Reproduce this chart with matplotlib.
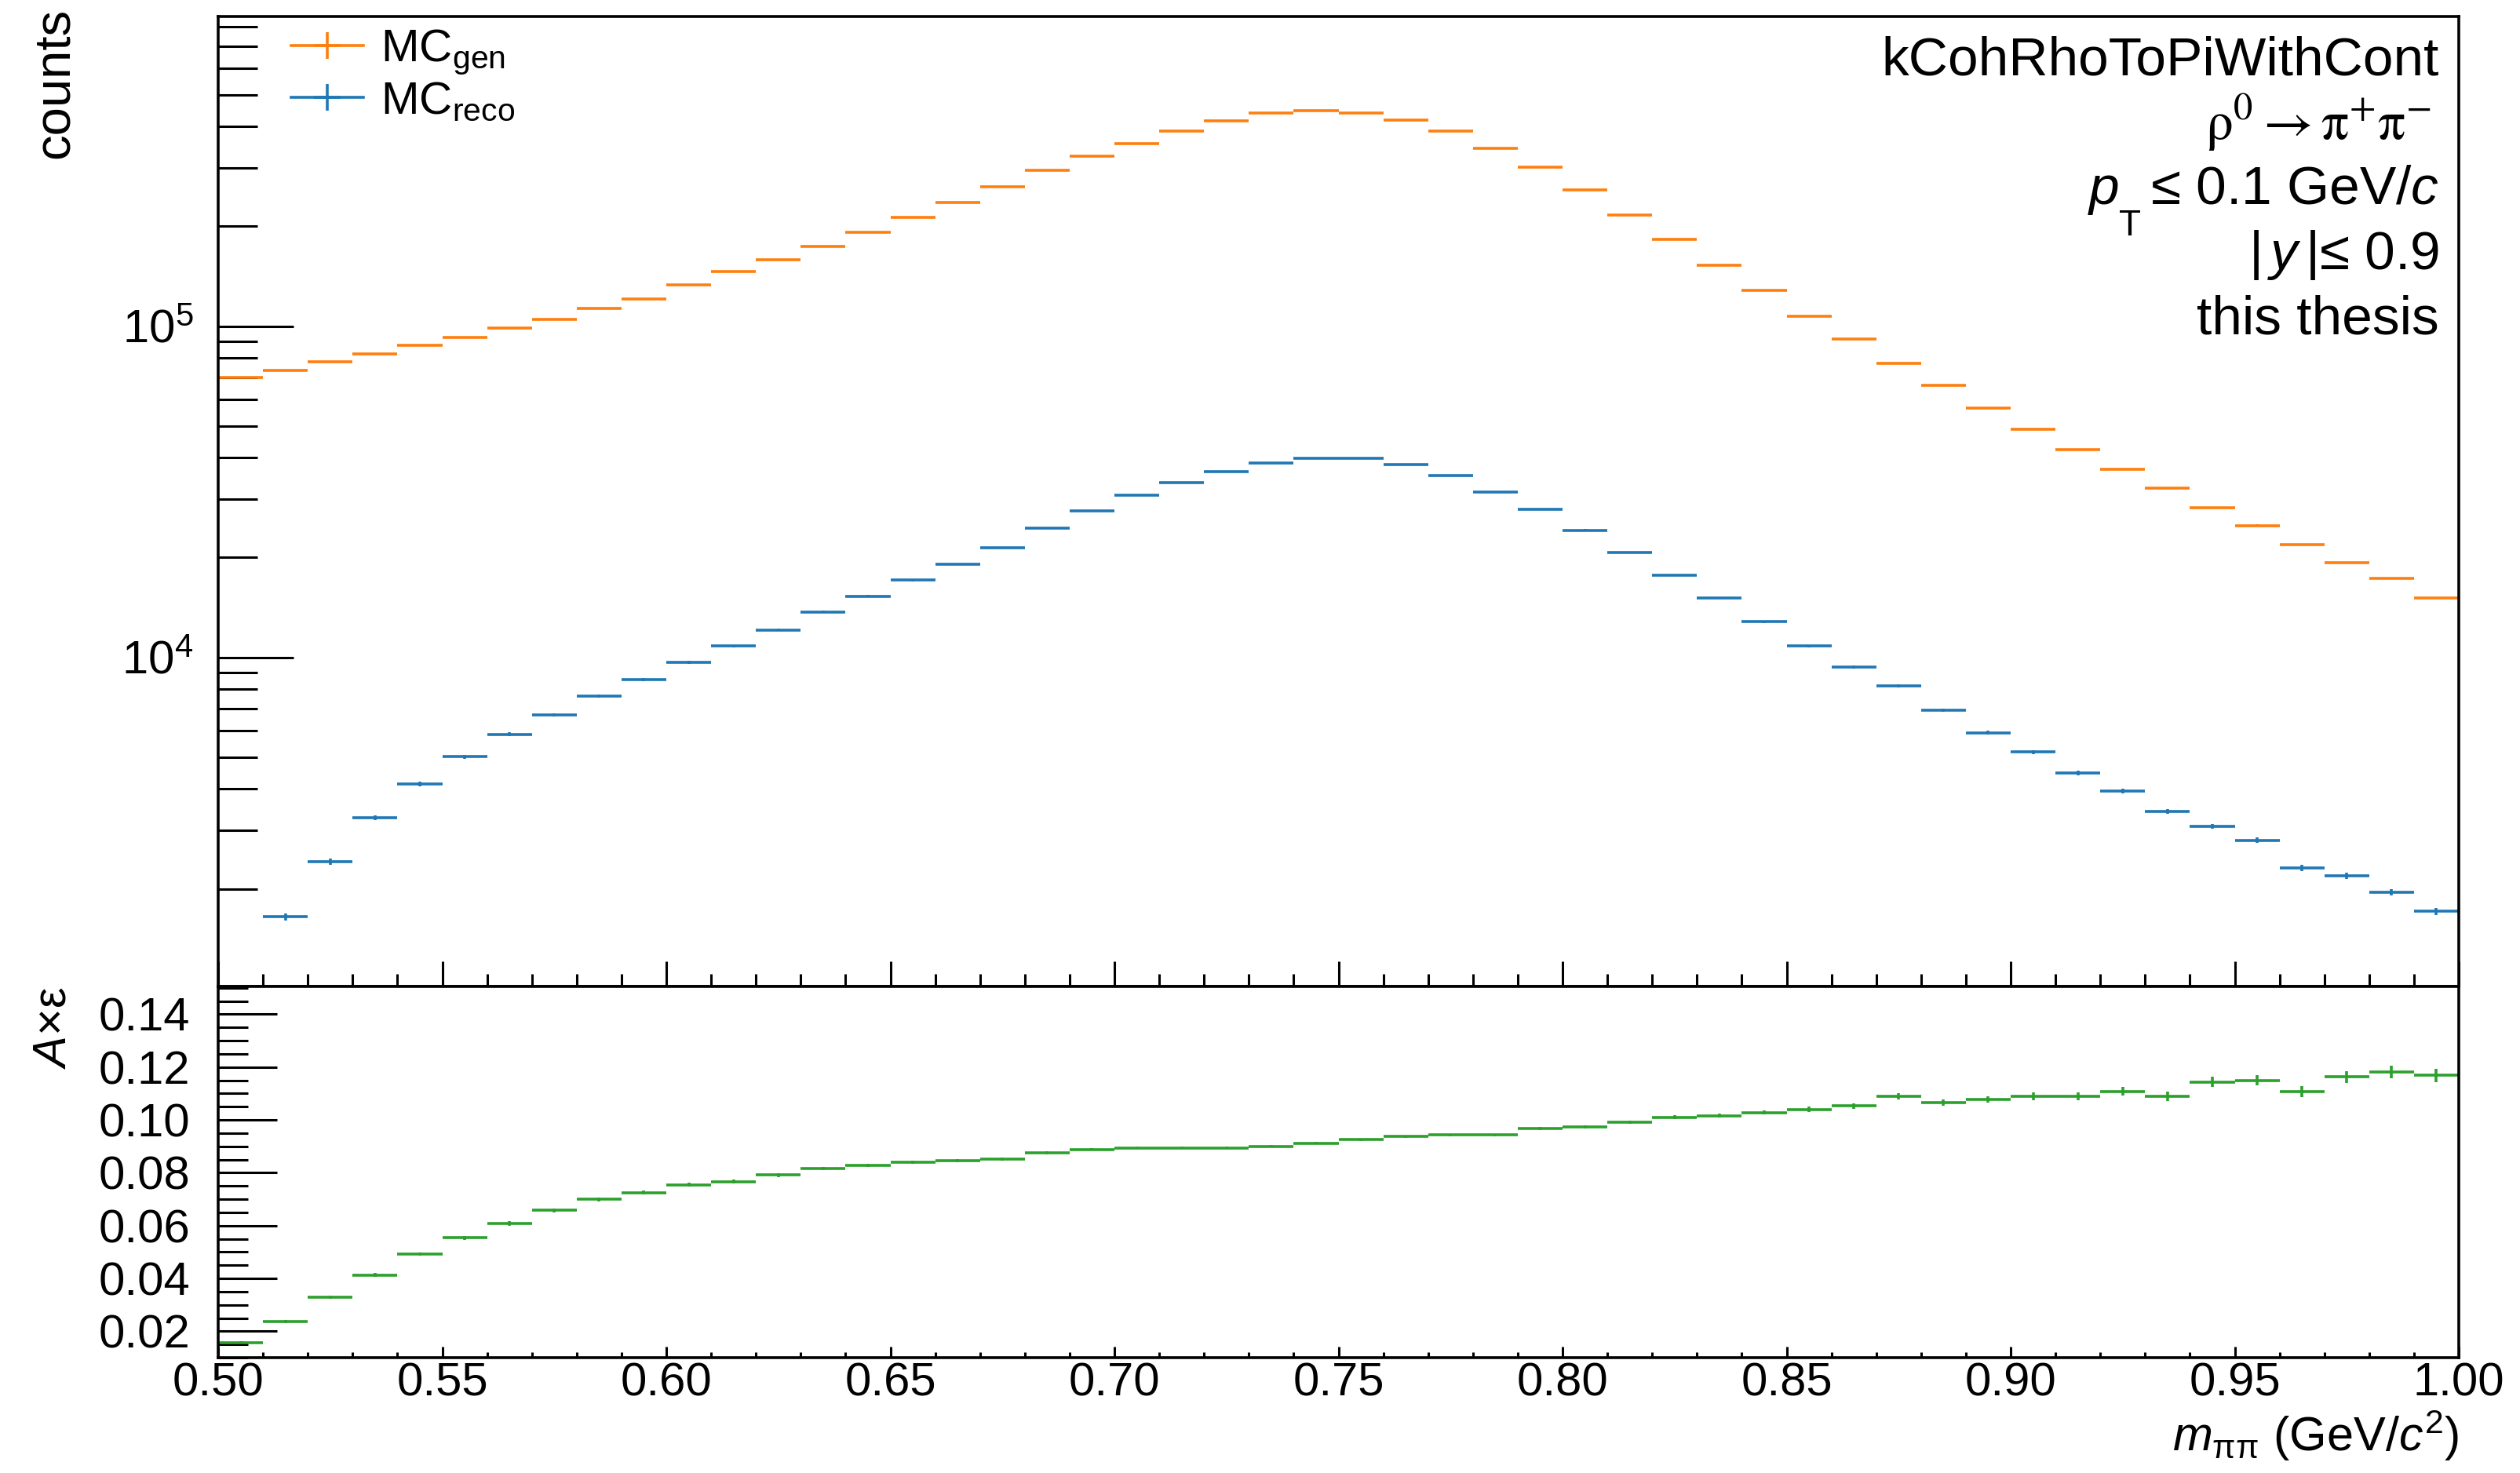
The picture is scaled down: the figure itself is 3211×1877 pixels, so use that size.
import numpy as np
import matplotlib
matplotlib.use("Agg")
import matplotlib.pyplot as plt
from matplotlib.ticker import (MultipleLocator, LogLocator, NullFormatter,
                               FormatStrFormatter, LogFormatterMathtext)
from matplotlib.lines import Line2D

plt.rcParams['font.family'] = ['Liberation Sans', 'DejaVu Sans']
plt.rcParams['mathtext.fontset'] = 'custom'
plt.rcParams['mathtext.rm'] = 'Liberation Sans'
plt.rcParams['mathtext.it'] = 'Liberation Sans:italic'
plt.rcParams['mathtext.bf'] = 'Liberation Sans:bold'

# m_pipi binning: 50 bins of 10 MeV between 0.50 and 1.00 GeV/c^2
bin_low = 0.50
bin_width = 0.01
n_bins = 50

mc_gen = [69800, 73600, 77900, 82400, 87300, 92400, 98800, 104800, 112800, 121000,
          133000, 146000, 159000, 174000, 192000, 213000, 236000, 263000, 295000, 326000,
          355000, 388000, 417000, 439000, 447000, 441000, 418000, 388000, 344000, 302000,
          258000, 216000, 183000, 153000, 128000, 107000, 91400, 77300, 66100, 56500,
          48900, 42300, 37000, 32400, 28300, 25000, 21900, 19300, 17300, 15100]

mc_reco = [990, 1648, 2415, 3273, 4140, 5003, 5850, 6690, 7650, 8560,
           9670, 10800, 12100, 13700, 15300, 17100, 19100, 21400, 24500, 27700,
           30800, 33700, 36300, 38700, 39800, 39800, 38200, 35400, 31600, 28000,
           24200, 20700, 17700, 15100, 12800, 10800, 9350, 8180, 6920, 5920,
           5180, 4470, 3950, 3420, 3090, 2800, 2310, 2190, 1955, 1710]

acc_eff = [0.0157, 0.0236, 0.0328, 0.0413, 0.0492, 0.0553, 0.0608, 0.0657, 0.0699, 0.0724,
           0.0754, 0.0766, 0.0791, 0.0815, 0.0827, 0.0839, 0.0845, 0.0852, 0.0876, 0.0888,
           0.0894, 0.0894, 0.0894, 0.0900, 0.0912, 0.0925, 0.0937, 0.0943, 0.0943, 0.0967,
           0.0973, 0.0992, 0.1010, 0.1016, 0.1028, 0.1040, 0.1053, 0.1089, 0.1065, 0.1077,
           0.1089, 0.1089, 0.1107, 0.1089, 0.1144, 0.1150, 0.1107, 0.1162, 0.1181, 0.1168]

x_ticklabels = ["0.50", "0.55", "0.60", "0.65", "0.70", "0.75", "0.80", "0.85", "0.90", "0.95", "1.00"]

c_gen = "#ff7f0e"
c_reco = "#1f77b4"
c_eff = "#2ca02c"

centers = bin_low + bin_width * (np.arange(n_bins) + 0.5)
gen = np.array(mc_gen, float)
reco = np.array(mc_reco, float)
eff = np.array(acc_eff, float)
gen_err = np.sqrt(gen)
reco_err = np.sqrt(reco)
eff_err = np.sqrt(eff * (1 - eff) / gen)

W, H = 3211, 1877
fig = plt.figure(figsize=(W / 100, H / 100), dpi=100)

ax_left, ax_right = 278 / W, 3133 / W
y_top, y_mid, y_bot = 1 - 20.5 / H, 1 - 1257 / H, 1 - 1730 / H
ax = fig.add_axes([ax_left, y_mid, ax_right - ax_left, y_top - y_mid])
axr = fig.add_axes([ax_left, y_bot, ax_right - ax_left, y_mid - y_bot], sharex=ax)

lw = 2.6
ax.errorbar(centers, gen, xerr=bin_width / 2, yerr=gen_err, fmt='none',
            ecolor=c_gen, elinewidth=lw, capsize=0)
ax.errorbar(centers, reco, xerr=bin_width / 2, yerr=reco_err, fmt='none',
            ecolor=c_reco, elinewidth=lw, capsize=0)
axr.errorbar(centers, eff, xerr=bin_width / 2, yerr=eff_err, fmt='none',
             ecolor=c_eff, elinewidth=lw, capsize=0)

ax.set_yscale('log')
ax.set_xlim(0.50, 1.00)
ax.set_ylim(1014, 8.63e5)
axr.set_ylim(0.0100, 0.1505)

for a in (ax, axr):
    for s in a.spines.values():
        s.set_linewidth(2.6)

tick_fs = 43

# upper pad ticks
ax.tick_params(axis='x', which='both', direction='in', bottom=True, top=False,
               labelbottom=False, width=2.2)
ax.tick_params(axis='x', which='major', length=23)
ax.tick_params(axis='x', which='minor', length=11.5)
ax.tick_params(axis='y', which='both', direction='in', left=True, right=False,
               width=2.2, labelsize=tick_fs, pad=23)
ax.tick_params(axis='y', which='major', length=69)
ax.tick_params(axis='y', which='minor', length=36)
ax.yaxis.set_major_locator(LogLocator(base=10, numticks=20))
ax.yaxis.set_minor_locator(LogLocator(base=10, subs=np.arange(2, 10), numticks=20))
ax.yaxis.set_major_formatter(LogFormatterMathtext())
ax.yaxis.set_minor_formatter(NullFormatter())

# lower pad ticks
axr.xaxis.set_major_locator(MultipleLocator(0.05))
axr.xaxis.set_minor_locator(MultipleLocator(0.01))
axr.set_xticks(np.linspace(0.5, 1.0, len(x_ticklabels)))
axr.set_xticklabels(x_ticklabels)
axr.tick_params(axis='x', which='both', direction='in', bottom=True, top=False,
                width=2.2, labelsize=tick_fs, pad=4)
axr.tick_params(axis='x', which='major', length=10)
axr.tick_params(axis='x', which='minor', length=5)
axr.yaxis.set_major_locator(MultipleLocator(0.02))
axr.yaxis.set_minor_locator(MultipleLocator(0.005))
axr.yaxis.set_major_formatter(FormatStrFormatter('%.2f'))
axr.tick_params(axis='y', which='both', direction='in', left=True, right=False,
                width=2.2, labelsize=tick_fs, pad=26)
axr.tick_params(axis='y', which='major', length=54)
axr.tick_params(axis='y', which='minor', length=27)
ax.xaxis.set_minor_locator(MultipleLocator(0.01))

# axis titles
ax.set_ylabel('counts', fontsize=47, loc='top')
ax.yaxis.set_label_coords(-0.0625, 1.0085)
axr.set_ylabel(r'$A$×ε', fontsize=43, loc='top')
axr.yaxis.set_label_coords(-0.064, 1.0)
axr.set_xlabel(r'$m_{\mathrm{\pi\pi}}$ (GeV/$c^{2}$)', fontsize=44, loc='right')
axr.xaxis.set_label_coords(1.0, -0.137)

# legend
handles = [Line2D([], [], color=c_gen, lw=lw, marker='+', markersize=25, markeredgewidth=lw),
           Line2D([], [], color=c_reco, lw=lw, marker='+', markersize=25, markeredgewidth=lw)]
ax.legend(handles, [r'MC$_{\mathrm{gen}}$', r'MC$_{\mathrm{reco}}$'], loc='upper left',
          bbox_to_anchor=(0.0326, 0.988), frameon=False, fontsize=42,
          handlelength=1.58, handletextpad=0.38, labelspacing=0.1,
          borderpad=0, borderaxespad=0)

# selection summary (right-aligned block in the upper pad)
info_fs = 50
x_right = 3108 / W
fig.text(x_right, 1 - 96 / H, 'kCohRhoToPiWithCont', ha='right', va='baseline',
         fontsize=info_fs)
fig.text(3098 / W, 1 - 178 / H, r'$\mathrm{\rho}^{0}\rightarrow\mathrm{\pi}^{+}\mathrm{\pi}^{-}$',
         ha='right', va='baseline', fontsize=info_fs, math_fontfamily='stix')
fig.text(x_right, 1 - 260 / H, r'≤ 0.1 GeV/$c$', ha='right', va='baseline',
         fontsize=info_fs)
fig.text(2700 / W, 1 - 260 / H, r'$p$', ha='right', va='baseline', fontsize=info_fs)
fig.text(2700 / W, 1 - 300 / H, 'T', ha='left', va='baseline', fontsize=33)
fig.text(x_right, 1 - 343 / H, r'|$\,y\,$|≤ 0.9', ha='right', va='baseline',
         fontsize=info_fs)
fig.text(x_right, 1 - 425 / H, 'this thesis', ha='right', va='baseline', fontsize=info_fs)

fig.savefig('out.png', dpi=100)
